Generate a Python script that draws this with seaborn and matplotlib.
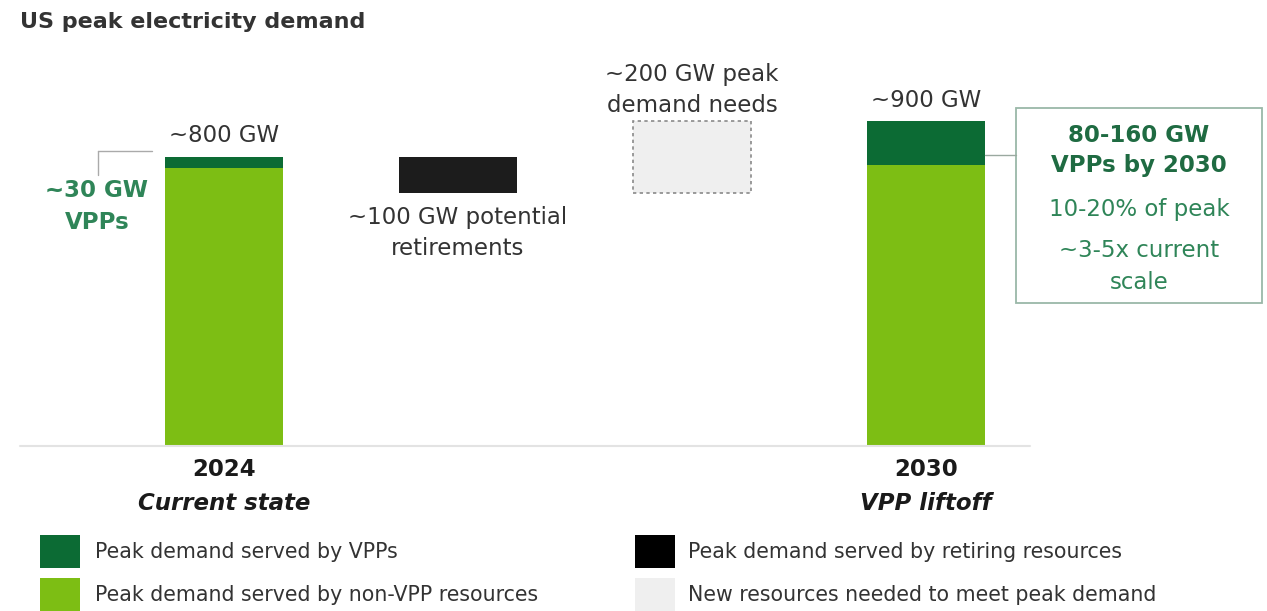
import pandas as pd
import seaborn as sns
import matplotlib.pyplot as plt
from matplotlib.patches import Rectangle

# Chart data (GW)
categories = ["2024", "retire", "new", "2030"]
stack_years = ["2024", "2030"]
non_vpp = [770, 780]
vpp = [30, 120]
retire_top = 800
retire_gw = 100
new_bottom = 700
new_gw = 200
year_labels = ["2024", "2030"]
stage_labels = ["Current state", "VPP liftoff"]
legend_labels = ["Peak demand served by VPPs",
                 "Peak demand served by non-VPP resources",
                 "Peak demand served by retiring resources",
                 "New resources needed to meet peak demand"]

DARK = "#0c6b34"
LIGHT = "#7dbe14"
BLACK = "#1c1c1c"
GREY = "#efefef"
TXT_GREEN = "#2f8558"
BOX_GREEN = "#1f6b42"
TXT = "#333333"

sns.set_theme(style="white")
plt.rcParams["font.family"] = ["DejaVu Sans"]

df = pd.DataFrame({"cat": stack_years,
                   "total": [a + b for a, b in zip(non_vpp, vpp)],
                   "base": non_vpp})

fig = plt.figure(figsize=(12.67, 6.11), dpi=100)
ax = fig.add_axes([20 / 1267, 165 / 611, 990 / 1267, 406 / 611])

W = 0.504
sns.barplot(data=df, x="cat", y="total", order=categories, color=DARK,
            width=W, saturation=1, linewidth=0, ax=ax)
sns.barplot(data=df, x="cat", y="base", order=categories, color=LIGHT,
            width=W, saturation=1, linewidth=0, ax=ax)
ax.bar(1, retire_gw, bottom=retire_top - retire_gw, width=W, color=BLACK,
       linewidth=0)
ax.bar(2, new_gw, bottom=new_bottom, width=W, color=GREY,
       edgecolor="#8a8a8a", linestyle=(0, (2, 2)), linewidth=1.2)

ax.set_xlim(-0.872, 3.359)
ax.set_ylim(0, 1125)
ax.axis("off")
ax.axhline(0, color="#e3e3e3", lw=1.5, xmin=0, xmax=1.02, clip_on=False)

fs = 16.5


def lines(x, ys, texts, **kw):
    # one text per line so the spacing follows the picture
    for y, t in zip(ys, texts):
        ax.text(x, y, t, ha="center", va="center", fontsize=fs, **kw)


lines(0, [861], ["~800 GW"], color=TXT)
lines(3, [958], ["~900 GW"], color=TXT)
lines(1, [634, 546], ["~100 GW potential", "retirements"], color=TXT)
lines(2, [1030, 944], ["~200 GW peak", "demand needs"], color=TXT)

# 2024 VPP callout
lines(-0.543, [709, 620], ["~30 GW", "VPPs"], color=TXT_GREEN, fontweight="bold")
ax.plot([-0.538, -0.308], [817, 817], color="#aaaaaa", lw=1, clip_on=False)
ax.plot([-0.538, -0.538], [817, 750], color="#aaaaaa", lw=1, clip_on=False)

# 2030 callout box
ax.plot([3.252, 3.385], [806, 806], color="#9aa9a0", lw=1, clip_on=False)
ax.add_patch(Rectangle((3.385, 396), 1.051, 540, fill=False,
                       edgecolor="#9ab8a8", lw=1.3, clip_on=False))
bx = 3.91
lines(bx, [861, 778], ["80-160 GW", "VPPs by 2030"], color=BOX_GREEN,
      fontweight="bold")
lines(bx, [654, 543, 452], ["10-20% of peak", "~3-5x current", "scale"],
      color=TXT_GREEN)

# category labels
for xpos, yl, sl in zip([0, 3], year_labels, stage_labels):
    ax.text(xpos, -66, yl, ha="center", va="center", fontsize=fs,
            fontweight="bold", color="#1a1a1a")
    ax.text(xpos, -158, sl, ha="center", va="center", fontsize=fs,
            fontweight="bold", fontstyle="italic", color="#1a1a1a")

fig.text(20 / 1267, 1 - 22 / 611, "US peak electricity demand", ha="left",
         va="center", fontsize=16, fontweight="bold", color=TXT)

# legend
sw_colors = [DARK, LIGHT, "#000000", GREY]
sw_pos = [(40, 535), (40, 578), (635, 535), (635, 578)]
txt_x = [95, 95, 688, 688]
for (px, py), c, tx, lab in zip(sw_pos, sw_colors, txt_x, legend_labels):
    fig.patches.append(Rectangle((px / 1267, 1 - (py + 33) / 611), 40 / 1267,
                                 33 / 611, transform=fig.transFigure,
                                 facecolor=c, edgecolor="none"))
    fig.text(tx / 1267, 1 - (py + 17) / 611, lab, ha="left", va="center",
             fontsize=14.8, color=TXT)

fig.savefig("out.png", dpi=100)
